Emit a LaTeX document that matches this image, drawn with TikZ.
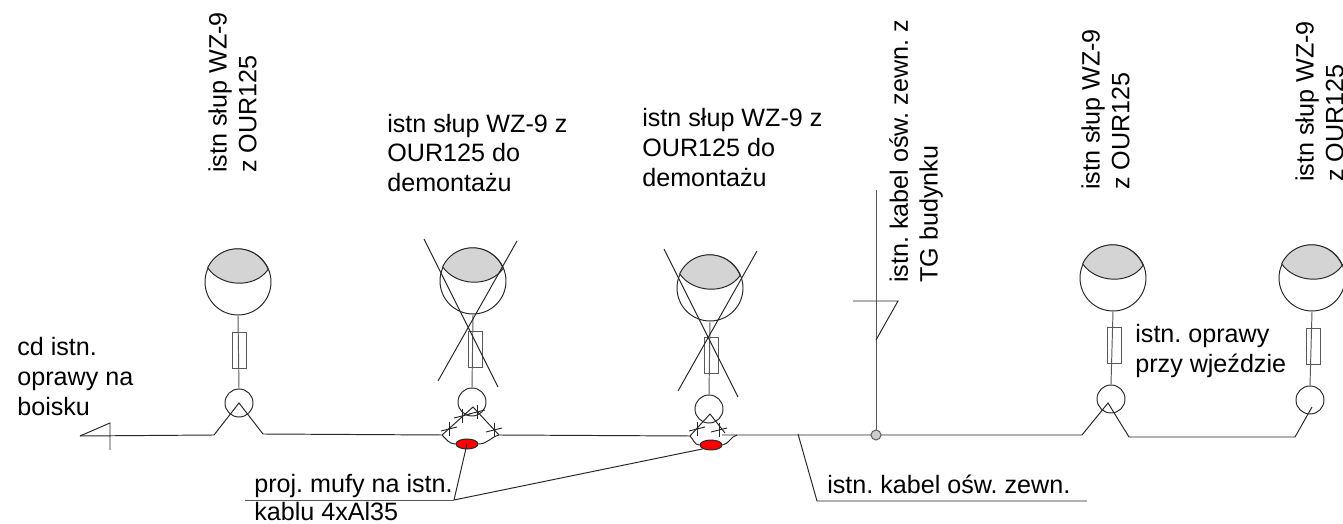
\documentclass[tikz,border=0pt]{standalone}
\usepackage{fontspec}
\setmainfont{Liberation Sans}
\usetikzlibrary{shapes.geometric}

\tikzset{
    wire/.style={line width=0.55pt, black!85},
    faint/.style={line width=0.55pt, black!65},
    label/.style={inner sep=0pt, anchor=north west, align=left, font=\frenchspacing\fontsize{14.3}{17}\selectfont},
    uplabel/.style={label, rotate=90},
    head/.style={circle, draw, wire, minimum size=1.32cm, inner sep=0pt},
    pole/.style={circle, draw, wire, minimum size=0.56cm, inner sep=0pt},
    fuse/.style={rectangle, draw, faint, minimum width=0.28cm, minimum height=0.72cm, inner sep=0pt},
    joint/.style={ellipse, draw, wire, fill=red, minimum width=0.44cm, minimum height=0.2cm, inner sep=0pt},
    tap/.style={circle, draw, faint, fill=black!20, minimum size=0.2cm, inner sep=0pt},
}

\begin{document}
\begin{tikzpicture}[x=0.02cm, y=0.02cm]
    \useasboundingbox (0,0) rectangle (1343,524);

    % Lamps
    \node[head] (headA) at (238,242) {};
    \node[head] (headB) at (473,243) {};
    \node[head] (headC) at (710,236) {};
    \node[head] (headD) at (1113,246) {};
    \node[head] (headE) at (1312,246) {};
    \foreach \h in {headA, headB, headC, headD, headE}
        \draw[wire, fill=black!17] (\h.155) arc[start angle=155, end angle=22, radius=0.66cm]
            to[out=-125, in=-55] (\h.155);

    % Poles
    \node[pole] (poleA) at (239,121) {};
    \node[pole] (poleB) at (472,122) {};
    \node[pole] (poleC) at (709,115) {};
    \node[pole] (poleD) at (1111,125) {};
    \node[pole] (poleE) at (1310,124) {};

    % Stems
    \foreach \s in {A, B, C, D, E}
        \draw[faint] (head\s.south) -- (pole\s.north);

    % Fuses
    \node[fuse] (fuseA) at (239,174) {};
    \node[fuse] (fuseB) at (475,175) {};
    \node[fuse] (fuseC) at (711,168.5) {};
    \node[fuse] (fuseD) at (1114,178.5) {};
    \node[fuse] (fuseE) at (1313,177.5) {};

    % Crossed out lamps
    \coordinate (crossBa) at (424,285);
    \coordinate (crossBb) at (498,137);
    \coordinate (crossBc) at (517,283);
    \coordinate (crossBd) at (438,143);
    \coordinate (crossCa) at (664,275);
    \coordinate (crossCb) at (738,127);
    \coordinate (crossCc) at (757,273);
    \coordinate (crossCd) at (678,133);
    \draw[wire] (crossBa) -- (crossBb);
    \draw[wire] (crossBc) -- (crossBd);
    \draw[wire] (crossCa) -- (crossCb);
    \draw[wire] (crossCc) -- (crossCd);

    % Cable
    \coordinate (endL) at (80,88);
    \coordinate (inA) at (214,89);
    \coordinate (topA) at (239,121);
    \coordinate (outA) at (263,90);
    \coordinate (inB) at (442,89);
    \coordinate (topB) at (473,117);
    \coordinate (outB) at (499,89);
    \coordinate (inC) at (690,88);
    \coordinate (topC) at (710,110);
    \coordinate (outC) at (725,91);
    \coordinate (nextC) at (722,89);
    \coordinate (inD) at (1082,89);
    \coordinate (topD) at (1108,121);
    \coordinate (outD) at (1129,87);
    \coordinate (inE) at (1295,87);
    \coordinate (topE) at (1312,117);
    \draw[wire] (endL) -- (inA) -- (topA) -- (outA) -- (inB) -- (topB) -- (outB) -- (inC) -- (topC) -- (outC);
    \draw[wire] (nextC) -- (inD) -- (topD) -- (outD) -- (inE) -- (topE);

    % End of the cable on the left
    \coordinate (tickLa) at (110,101);
    \coordinate (tickLb) at (110,74);
    \draw[wire] (endL) -- (tickLa) -- (tickLb);

    % Joints
    \node[joint] (jointB) at (467,80) {};
    \node[joint] (jointC) at (711,79) {};
    \coordinate (bendC) at (737,89);
    \draw[wire] (inB) to[out=-45, in=180] (jointB.west);
    \draw[wire] (jointB.east) to[out=0, in=195] (outB);
    \draw[wire] (inC) to[out=-45, in=180] (jointC.west);
    \draw[wire] (jointC.east) to[out=10, in=195] (bendC);

    % Marks on the cut wires
    \foreach \x/\y in {449/95, 462/108, 477/112, 494/94, 697/95, 719/94} {
        \draw[wire] (\x-8,\y-2) -- (\x+8,\y+2);
        \draw[wire] (\x,\y-7) -- (\x,\y+7);
    }

    % Branch to the building
    \node[tap] (tapF) at (876,89) {};
    \coordinate (branchTop) at (876,334);
    \coordinate (branchEnd) at (876,184);
    \coordinate (tickFa) at (853,223);
    \coordinate (tickFb) at (898,223);
    \draw[faint] (branchTop) -- (tapF);
    \draw[wire] (tickFa) -- (tickFb) -- (branchEnd);

    % Leaders
    \coordinate (shelfLa) at (245,24);
    \coordinate (shelfLb) at (454,24);
    \draw[faint] (shelfLa) -- (shelfLb);
    \draw[wire] (shelfLb) -- (jointB.center);
    \draw[wire] (shelfLb) -- (jointC.south west);
    \coordinate (cableP) at (798,90);
    \coordinate (shelfRa) at (817,23);
    \coordinate (shelfRb) at (1087,23);
    \draw[wire] (cableP) -- (shelfRa) -- (shelfRb);

    % Texts
    \node[label] (textL) at (17,187) {cd istn.\\oprawy na\\boisku};
    \node[label] (textB) at (387,410.5) {istn słup WZ-9 z\\OUR125 do\\demontażu};
    \node[label] (textC) at (642,416) {istn słup WZ-9 z\\OUR125 do\\demontażu};
    \node[label] (textD) at (1135,200) {istn. oprawy\\przy wjeździe};
    \node[label] (textJa) at (254,50) {proj. mufy na istn.};
    \node[label] (textJb) at (254,22) {kablu 4xAl35};
    \node[label] (textK) at (827,49) {istn. kabel ośw. zewn.};
    \node[uplabel] (upA) at (208,351) {istn słup WZ-9\\z OUR125};
    \node[uplabel] (upF) at (889,241) {istn. kabel ośw. zewn. z\\TG budynku};
    \node[uplabel] (upD) at (1081,334) {istn słup WZ-9\\z OUR125};
    \node[uplabel] (upE) at (1295,342) {istn słup WZ-9\\z OUR125};
\end{tikzpicture}
\end{document}
